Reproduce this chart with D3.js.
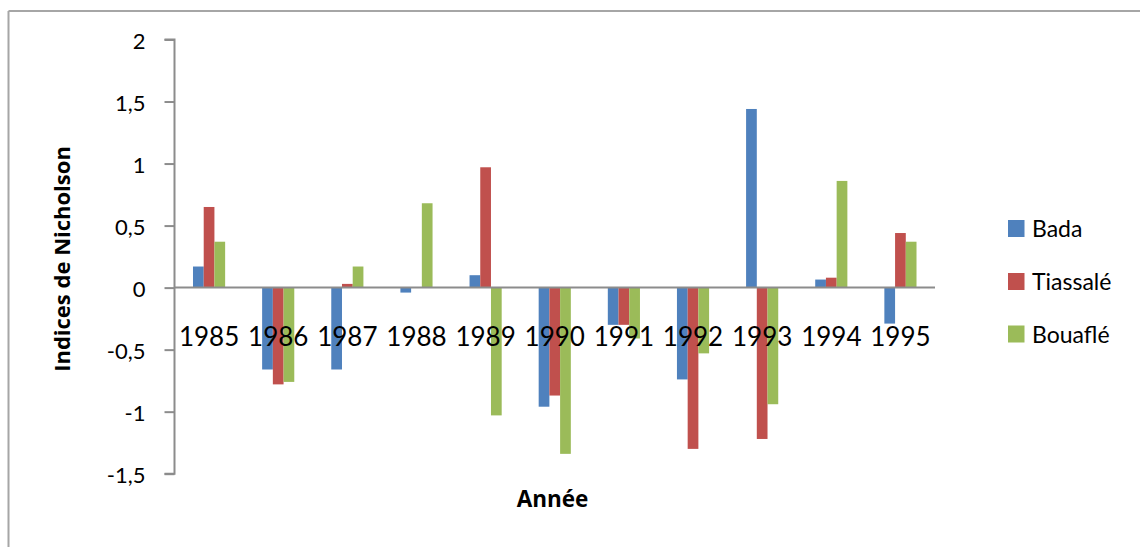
<!DOCTYPE html>
<html>
<head>
<meta charset="utf-8">
<script src="https://cdn.jsdelivr.net/npm/d3@7"></script>
<style>
  html, body { margin: 0; padding: 0; background: #fff; }
  svg { display: block; }
  text { font-family: Lato, "Open Sans", "Liberation Sans", sans-serif; fill: #000; }
  .title { font-family: "Open Sans", Lato, sans-serif; font-weight: 700; }
</style>
</head>
<body>
<svg id="chart" width="1140" height="547"></svg>
<script>
// Nicholson rainfall indices per station, 1985–1995
const years = ["1985", "1986", "1987", "1988", "1989", "1990", "1991", "1992", "1993", "1994", "1995"];
const stations = ["Bada", "Tiassalé", "Bouaflé"];
const bada     = [0.17, -0.66, -0.66, -0.04, 0.10, -0.96, -0.30, -0.74, 1.44, 0.065, -0.29];
const tiassale = [0.65, -0.78, 0.03, 0.00, 0.97, -0.87, -0.30, -1.30, -1.22, 0.08, 0.44];
const bouafle  = [0.37, -0.76, 0.17, 0.68, -1.03, -1.34, -0.41, -0.53, -0.94, 0.86, 0.37];
const yTicks = [-1.5, -1, -0.5, 0, 0.5, 1, 1.5, 2];
const colors = ["#4F81BD", "#C0504D", "#9BBB59"];

const seriesValues = [bada, tiassale, bouafle];
const rows = years.map((yr, i) => ({
  year: yr,
  values: stations.map((s, k) => ({ station: s, k, value: seriesValues[k][i] }))
}));

const svg = d3.select("#chart");

// chart frame (only top and left edges fall inside the page)
svg.append("line").attr("x1", 8.5).attr("x2", 1140).attr("y1", 11).attr("y2", 11)
  .attr("stroke", "#a6a6a6").attr("stroke-width", 2);
svg.append("line").attr("x1", 8.5).attr("x2", 8.5).attr("y1", 11).attr("y2", 547)
  .attr("stroke", "#a6a6a6").attr("stroke-width", 2);

const plot = { left: 174.5, right: 935, top: 39.5, bottom: 473.7 };

const x = d3.scaleBand().domain(years).range([plot.left, plot.right]).padding(0);
const groupWidth = x.bandwidth() * 0.465;
const xs = d3.scaleBand().domain(stations).range([0, groupWidth]).padding(0);
const y = d3.scaleLinear().domain([-1.5, 2]).range([plot.bottom, plot.top]);

// bars
const g = svg.append("g");
g.selectAll("g.year").data(rows).join("g")
  .attr("class", "year")
  .attr("transform", d => `translate(${x(d.year) + (x.bandwidth() - groupWidth) / 2},0)`)
  .selectAll("rect").data(d => d.values).join("rect")
  .attr("x", d => xs(d.station))
  .attr("width", xs.bandwidth())
  .attr("y", d => y(Math.max(0, d.value)))
  .attr("height", d => Math.abs(y(d.value) - y(0)))
  .attr("fill", d => colors[d.k]);

// y axis
const yAxis = d3.axisLeft(y).tickValues(yTicks).tickSize(10).tickPadding(19)
  .tickFormat(v => String(v).replace(".", ","));
const ya = svg.append("g").attr("transform", `translate(${plot.left},0)`).call(yAxis);
ya.select(".domain").attr("stroke", "#8c8c8c").attr("stroke-width", 2)
  .attr("d", `M-10,${y(2)}H0V${y(-1.5)}H-10`);
ya.selectAll(".tick line").attr("stroke", "#8c8c8c").attr("stroke-width", 2);
ya.selectAll(".tick text").attr("font-size", 22).attr("dy", "0.4em")
  .style("font-family", "Lato, sans-serif").attr("fill", "#000");

// category axis along zero
const xAxis = d3.axisBottom(x).tickSize(0).tickPadding(0);
const xa = svg.append("g").attr("transform", `translate(0,${y(0)})`).call(xAxis);
xa.select(".domain").attr("stroke", "#8c8c8c").attr("stroke-width", 2)
  .attr("d", `M${plot.left},0H${plot.right}`);
xa.selectAll(".tick text").attr("font-size", 26).attr("y", 58).attr("dy", 0)
  .style("font-family", "Lato, sans-serif").attr("fill", "#000");

// axis titles
svg.append("text").attr("class", "title")
  .attr("transform", `translate(70,${259}) rotate(-90)`)
  .attr("text-anchor", "middle")
  .attr("font-size", 22)
  .text("Indices de Nicholson");

svg.append("text").attr("class", "title")
  .attr("x", 552.5).attr("y", 507)
  .attr("text-anchor", "middle")
  .attr("font-size", 22.5)
  .text("Année");

// legend
const legend = svg.append("g").attr("transform", "translate(1008,0)");
const ly = [228.5, 281.5, 334];
const li = legend.selectAll("g").data(stations).join("g")
  .attr("transform", (d, i) => `translate(0,${ly[i]})`);
li.append("rect").attr("x", 0).attr("y", -8.5).attr("width", 16.5).attr("height", 17)
  .attr("fill", (d, i) => colors[i]);
li.append("text").attr("x", 24).attr("y", 8.5).attr("font-size", 23).text(d => d);
</script>
</body>
</html>
